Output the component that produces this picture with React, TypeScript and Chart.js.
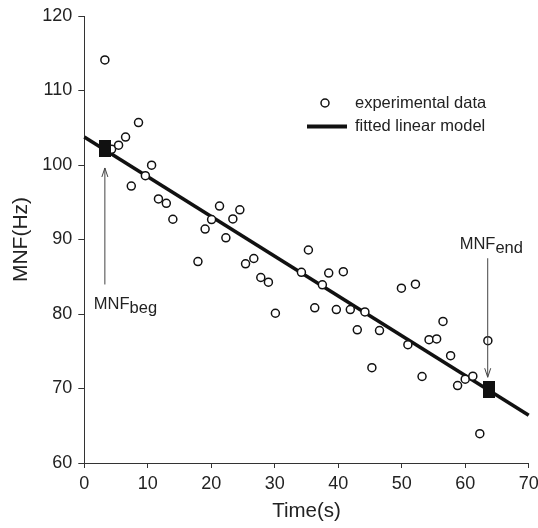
import React, { useEffect, useRef } from "react";
import { Chart, registerables } from "chart.js";

Chart.register(...registerables);

// Experimental data
const timeS = [3.24, 4.3, 5.4, 6.5, 8.54, 7.4, 9.62, 10.6, 11.68, 12.92, 13.95, 17.9, 19.03, 20.05, 21.3, 22.3, 23.4, 24.5, 25.4, 26.7, 27.8, 29.0, 30.1, 34.2, 35.3, 36.3, 37.5, 38.5, 39.7, 40.8, 41.9, 43.0, 44.2, 45.3, 46.5, 49.95, 50.97, 52.16, 53.2, 54.3, 55.5, 56.5, 57.7, 58.8, 60.0, 61.2, 62.3, 63.57];
const mnfHz = [114.1, 102.1, 102.66, 103.75, 105.7, 97.17, 98.57, 99.98, 95.44, 94.85, 92.72, 87.04, 91.4, 92.67, 94.49, 90.22, 92.76, 93.99, 86.73, 87.45, 84.9, 84.27, 80.1, 85.6, 88.59, 80.83, 83.91, 85.5, 80.6, 85.68, 80.6, 77.88, 80.28, 72.79, 77.78, 83.46, 75.88, 84.0, 71.61, 76.56, 76.65, 79.0, 74.4, 70.4, 71.25, 71.66, 63.94, 76.42];

// Fitted linear model endpoints
const fitX = [0, 70];
const fitY = [103.75, 66.4];

// MNF begin / end markers
const markerX = [3.24, 63.7];
const markerY = [102.15, 69.9];
const markerLabels = ["beg", "end"];

// Axis ticks
const xMin = 0, xMax = 70, xStep = 10;
const yMin = 60, yMax = 120, yStep = 10;

const FONT = "'Liberation Sans', Arial, Helvetica, sans-serif";
const TEXT = "#222";
const LINE = "#333";

function makeRect(): HTMLCanvasElement {
  const c = document.createElement("canvas");
  c.width = 12;
  c.height = 17;
  const g = c.getContext("2d")!;
  g.fillStyle = "#111";
  g.fillRect(0, 0, 12, 17);
  return c;
}

const annotPlugin = {
  id: "annot",
  afterDatasetsDraw(chart: any) {
    const { ctx, scales } = chart;
    const xs = scales.x, ys = scales.y;
    ctx.save();
    ctx.strokeStyle = "#444";
    ctx.fillStyle = TEXT;
    ctx.lineWidth = 1;
    ctx.font = `16.5px ${FONT}`;
    ctx.textBaseline = "alphabetic";
    ctx.textAlign = "left";

    const drawLabel = (x: number, y: number, sub: string) => {
      ctx.fillText("MNF", x, y);
      const w = ctx.measureText("MNF").width;
      ctx.fillText(sub, x + w, y + 4);
    };
    const arrow = (x: number, y0: number, y1: number) => {
      // from y0 to tip y1
      ctx.beginPath();
      ctx.moveTo(x, y0);
      ctx.lineTo(x, y1);
      const dir = y1 > y0 ? -1 : 1;
      ctx.moveTo(x - 3, y1 + dir * 9);
      ctx.lineTo(x, y1);
      ctx.lineTo(x + 3, y1 + dir * 9);
      ctx.stroke();
    };

    // begin
    const bx = xs.getPixelForValue(markerX[0]);
    const by = ys.getPixelForValue(markerY[0]);
    arrow(bx, by + 135.5, by + 19);
    drawLabel(bx - 11, by + 160, markerLabels[0]);

    // end
    const ex = xs.getPixelForValue(markerX[1]);
    const ey = ys.getPixelForValue(markerY[1]);
    arrow(ex - 1, ey - 131, ey - 12);
    drawLabel(ex - 29, ey - 140, markerLabels[1]);

    // legend
    ctx.textBaseline = "middle";
    ctx.beginPath();
    ctx.arc(325, 103, 4, 0, Math.PI * 2);
    ctx.fillStyle = "#fff";
    ctx.fill();
    ctx.strokeStyle = "#111";
    ctx.lineWidth = 1.5;
    ctx.stroke();
    ctx.fillStyle = TEXT;
    ctx.fillText("experimental data", 355, 103);
    ctx.beginPath();
    ctx.moveTo(307, 126.5);
    ctx.lineTo(347, 126.5);
    ctx.lineWidth = 4;
    ctx.strokeStyle = "#111";
    ctx.stroke();
    ctx.fillText("fitted linear model", 355, 126);
    ctx.restore();
  },
};

export default function App() {
  const ref = useRef<HTMLCanvasElement>(null);
  useEffect(() => {
    document.body.style.margin = "0";
    const rect = makeRect();
    const chart = new Chart(ref.current!, {
      type: "scatter",
      data: {
        datasets: [
          {
            label: "markers",
            data: markerX.map((x, i) => ({ x, y: markerY[i] })),
            pointStyle: rect as any,
            pointRadius: 8,
            order: 0,
          },
          {
            label: "experimental data",
            data: timeS.map((x, i) => ({ x, y: mnfHz[i] })),
            pointStyle: "circle",
            pointRadius: 4,
            borderWidth: 1.5,
            borderColor: "#111",
            backgroundColor: "#fff",
            order: 1,
          },
          {
            label: "fitted linear model",
            data: fitX.map((x, i) => ({ x, y: fitY[i] })),
            showLine: true,
            pointRadius: 0,
            borderWidth: 3.6,
            borderColor: "#111",
            backgroundColor: "#111",
            clip: false as any,
            order: 2,
          },
        ],
      },
      options: {
        responsive: false,
        animation: false,
        events: [],
        layout: { padding: { left: 0, top: 16, right: 9.3, bottom: 0 } },
        plugins: { legend: { display: false }, tooltip: { enabled: false } },
        scales: {
          x: {
            type: "linear",
            min: xMin,
            max: xMax,
            ticks: { stepSize: xStep, color: TEXT, font: { family: FONT, size: 18 }, padding: 5 },
            grid: { drawOnChartArea: false, drawTicks: true, tickLength: 5, color: LINE },
            border: { display: true, color: LINE, width: 1 },
            title: { display: true, text: "Time(s)", color: TEXT, font: { family: FONT, size: 20.5 }, padding: { top: 0, bottom: 4 } },
            afterFit(s: any) {
              s.height = 65;
              s.paddingLeft = 0;
              s.paddingRight = 0;
            },
          },
          y: {
            type: "linear",
            min: yMin,
            max: yMax,
            ticks: { stepSize: yStep, color: TEXT, font: { family: FONT, size: 18 }, padding: 6 },
            grid: { drawOnChartArea: false, drawTicks: true, tickLength: 6, color: LINE },
            border: { display: true, color: LINE, width: 1 },
            title: { display: true, text: "MNF(Hz)", color: TEXT, font: { family: FONT, size: 21 }, padding: { top: 9, bottom: 0 } },
            afterFit(s: any) {
              s.width = 84.3;
              s.paddingTop = 0;
              s.paddingBottom = 0;
            },
          },
        },
      },
      plugins: [annotPlugin],
    });
    return () => chart.destroy();
  }, []);
  return (
    <div style={{ width: 538, height: 528 }}>
      <canvas ref={ref} width={538} height={528} />
    </div>
  );
}
